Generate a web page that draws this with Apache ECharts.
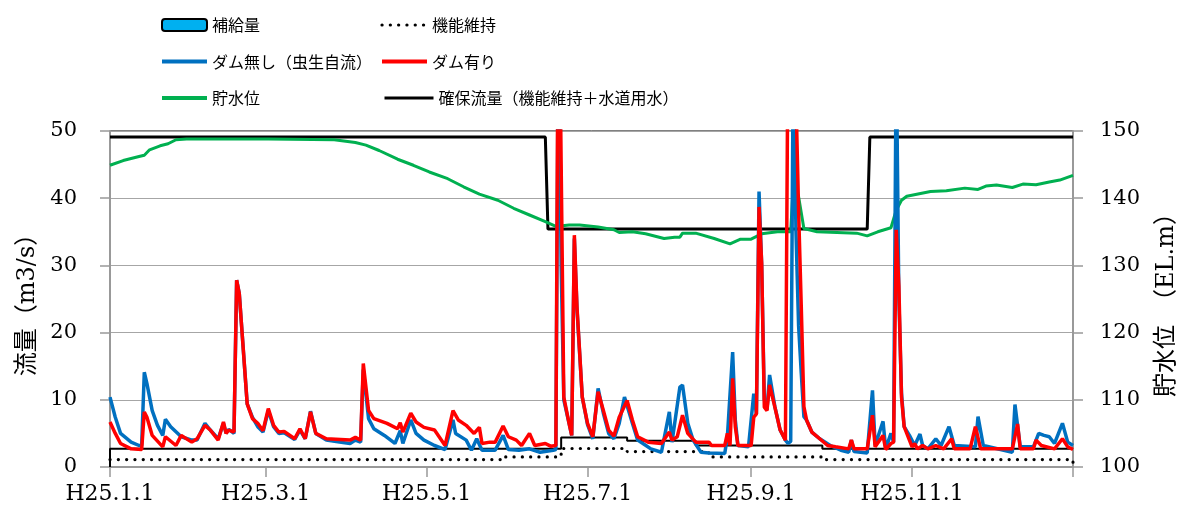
<!DOCTYPE html>
<html>
<head>
<meta charset="utf-8">
<script src="https://cdn.jsdelivr.net/npm/echarts@6/dist/echarts.min.js"></script>
<style>
  html, body { margin: 0; padding: 0; background: #fff; }
  #chart { width: 1189px; height: 514px; }
</style>
</head>
<body>
<div id="chart"></div>
<script>
// Day-of-year positions (day 0 = H25.1.1) for the month ticks
const tickDays = [0, 59, 120, 181, 243, 304, 365];
const tickLabels = ['H25.1.1', 'H25.3.1', 'H25.5.1', 'H25.7.1', 'H25.9.1', 'H25.11.1', ''];

// 補給量 (m3/s) — no supply releases in this period
const supply = [];

// 機能維持 (m3/s): [day, value] change points
const maintenanceFlow = [
  [0, 1.1], [149, 1.5], [171, 2.75], [196, 2.3], [227, 1.5], [271, 1.1], [365, 0]
];

// 確保流量（機能維持＋水道用水） (m3/s): [day, value] change points
const securedFlow = [
  [0, 0], [0, 2.7], [171, 4.4], [196, 3.9], [222, 3.2], [270, 2.7], [365, 2.7]
];

// ダム無し（虫生自流） (m3/s): [day, value]
const naturalFlow = [
  [0, 10.4], [2, 7.4], [4, 5.0], [8, 3.7], [11, 3.2], [12, 3.2], [13, 14.1], [14, 12.4],
  [16, 8.4], [18, 6.2], [20, 4.7], [21, 7.1], [23, 6.0], [27, 4.5], [31, 4.0], [33, 4.0],
  [36, 6.5], [38, 5.5], [41, 4.2], [43, 6.5], [44, 5.0], [45, 5.6], [47, 5.0], [48, 27.8],
  [49, 25.8], [52, 9.4], [54, 7.4], [56, 6.0], [58, 5.2], [60, 8.4], [62, 6.0], [64, 5.0],
  [66, 5.1], [70, 4.1], [72, 5.5], [74, 4.2], [76, 8.3], [78, 5.0], [82, 4.0], [87, 3.7],
  [91, 3.5], [93, 4.0], [95, 3.7], [96, 14.5], [98, 7.2], [100, 5.7], [104, 4.7], [108, 3.5],
  [110, 5.4], [111, 3.5], [114, 7.0], [116, 5.0], [119, 4.0], [123, 3.2], [127, 2.6], [130, 7.0],
  [131, 5.0], [135, 4.0], [137, 2.5], [139, 4.2], [141, 2.5], [146, 2.5], [149, 4.7], [151, 2.6],
  [155, 2.5], [159, 2.7], [163, 2.2], [168, 2.5], [169, 2.6], [170, 70], [171, 30], [172, 10],
  [174, 6.5], [175, 4.7], [176, 34], [177, 23.5], [179, 10.4], [181, 6.3], [183, 4.2], [185, 11.7],
  [187, 8.0], [189, 5.0], [191, 4.2], [193, 6.5], [195, 10.4], [198, 6.5], [200, 4.0], [202, 3.5],
  [205, 2.7], [209, 2.2], [212, 8.2], [213, 3.7], [216, 11.9], [217, 12.2], [219, 6.5], [221, 4.0],
  [224, 2.2], [227, 2.1], [233, 2.0], [234, 4.5], [236, 17.1], [237, 7.0], [238, 3.2], [242, 3.0],
  [244, 10.9], [245, 7.9], [246, 41.0], [247, 30.0], [248, 10.0], [249, 8.5], [250, 13.7], [252, 9.0],
  [254, 5.5], [256, 4.0], [257, 3.5], [258, 3.8], [259, 62], [260, 35], [261, 21], [262, 14],
  [263, 7.5], [264, 7.0], [266, 5.2], [269, 4.2], [273, 3.2], [277, 2.5], [280, 2.2], [281, 4.0],
  [282, 2.3], [287, 2.1], [289, 11.4], [290, 3.2], [293, 6.8], [294, 2.7], [296, 5.0], [297, 3.7],
  [298, 62], [299, 25], [300, 11], [301, 6.0], [303, 4.7], [305, 3.2], [307, 4.9], [308, 3.2],
  [310, 2.7], [313, 4.2], [315, 3.2], [318, 6.0], [320, 3.2], [328, 3.0], [329, 7.5], [331, 3.2],
  [342, 2.2], [343, 9.3], [345, 3.0], [350, 3.0], [352, 5.0], [354, 4.7], [356, 4.5], [358, 3.5],
  [361, 6.5], [363, 3.7], [365, 3.2]
];

// ダム有り (m3/s): [day, value]
const regulatedFlow = [
  [0, 6.7], [2, 5.0], [4, 3.5], [8, 2.7], [12, 2.6], [13, 8.2], [14, 7.4], [16, 4.7],
  [20, 3.0], [21, 4.5], [25, 3.2], [27, 4.7], [31, 3.7], [33, 4.2], [36, 6.2], [38, 5.5],
  [41, 4.0], [43, 6.7], [44, 5.0], [45, 5.5], [47, 5.2], [48, 27.8], [49, 25.8], [52, 9.4],
  [54, 7.2], [56, 6.5], [58, 5.4], [60, 8.7], [62, 6.2], [64, 5.2], [66, 5.3], [70, 4.2],
  [72, 5.7], [74, 4.2], [76, 8.2], [78, 5.0], [82, 4.2], [91, 4.0], [93, 4.4], [95, 4.0],
  [96, 15.4], [98, 8.4], [100, 7.2], [105, 6.5], [109, 5.7], [110, 6.6], [111, 5.2], [114, 8.0],
  [116, 6.7], [119, 5.9], [123, 5.5], [127, 3.2], [130, 8.4], [132, 7.0], [135, 6.2], [138, 5.0],
  [140, 5.9], [141, 3.5], [144, 3.7], [146, 3.7], [149, 6.1], [151, 4.5], [154, 4.0], [156, 3.2],
  [159, 5.0], [161, 3.2], [165, 3.5], [167, 3.1], [169, 3.2], [170, 80], [171, 45], [172, 10.4],
  [174, 6.5], [175, 4.7], [176, 34.5], [177, 23.8], [179, 10.4], [181, 6.5], [183, 4.5], [185, 11.2],
  [187, 8.4], [189, 5.5], [191, 4.6], [193, 7.4], [196, 9.9], [198, 7.0], [200, 4.5], [204, 3.7],
  [209, 3.5], [212, 5.2], [213, 4.0], [215, 4.5], [217, 7.7], [219, 5.0], [222, 3.7], [227, 3.7],
  [228, 3.2], [233, 3.2], [234, 5.0], [235, 3.2], [236, 13.2], [237, 6.0], [238, 3.2], [243, 3.2],
  [244, 7.4], [245, 7.9], [246, 38.7], [247, 30.3], [248, 8.9], [249, 8.4], [250, 12.2], [252, 8.9],
  [254, 5.5], [256, 4.0], [257, 65], [258, 70], [259, 70], [260, 55], [261, 38], [262, 24],
  [263, 9.0], [264, 7.0], [266, 5.2], [269, 4.2], [272, 3.2], [275, 3.0], [280, 2.7], [281, 4.0],
  [282, 2.7], [287, 2.7], [289, 7.7], [290, 3.0], [293, 4.7], [294, 2.6], [296, 3.5], [297, 3.7],
  [298, 35.3], [299, 27], [300, 10.4], [301, 6.0], [303, 4.0], [304, 3.0], [305, 3.5], [306, 2.7],
  [308, 3.2], [310, 2.7], [313, 3.2], [316, 2.7], [319, 4.2], [320, 2.7], [326, 2.7], [328, 6.0],
  [330, 2.7], [342, 2.7], [344, 6.4], [345, 2.7], [350, 2.7], [351, 4.0], [353, 3.2], [358, 2.7],
  [361, 4.2], [363, 3.0], [365, 2.6]
];

// 貯水位 (EL.m): [day, value]
const reservoirLevel = [
  [0, 144.9], [5, 145.6], [11, 146.2], [13, 146.4], [15, 147.2], [19, 147.8], [22, 148.1], [25, 148.7],
  [29, 148.8], [60, 148.8], [85, 148.7], [93, 148.3], [97, 147.9], [102, 147.1], [109, 145.8], [115, 144.9],
  [121, 143.9], [128, 142.9], [134, 141.7], [140, 140.6], [147, 139.7], [153, 138.5], [159, 137.5], [165, 136.5],
  [169, 135.8], [174, 136.0], [178, 136.0], [185, 135.7], [191, 135.3], [193, 134.9], [198, 135.0], [203, 134.7],
  [210, 134.0], [214, 134.2], [216, 134.2], [217, 134.8], [222, 134.8], [229, 134.0], [235, 133.2], [239, 133.9],
  [243, 133.9], [247, 134.7], [253, 135.0], [258, 135.0], [259, 142.2], [261, 140.2], [263, 135.5], [268, 135.0],
  [283, 134.8], [287, 134.4], [291, 135.0], [296, 135.6], [298, 138.2], [300, 139.7], [302, 140.3], [311, 141.0],
  [317, 141.1], [324, 141.5], [329, 141.3], [332, 141.8], [336, 141.96], [342, 141.6], [346, 142.1], [351, 142.0],
  [356, 142.4], [360, 142.7], [365, 143.4]
];

// Reference water levels (EL.m): [day, value] change points
const referenceLevel = [
  [0, 149.1], [165, 149.1], [166, 135.4], [287, 135.4], [288, 149.1], [365, 149.1]
];

const serif = "'DejaVu Serif', 'Noto Sans CJK JP', serif";
const jp = "'Noto Sans CJK JP', sans-serif";

const chart = echarts.init(document.getElementById('chart'), null, { renderer: 'canvas' });

const legendText = { fontSize: 16, fontFamily: jp, color: '#000', lineHeight: 20 };
// line entries show only their stroke, no point symbol
const lineOnly = { opacity: 0 };

chart.setOption({
  animation: false,
  backgroundColor: '#fff',
  grid: {
    left: 110, right: 116, top: 131, bottom: 47,
    show: true, borderColor: '#000', borderWidth: 1, backgroundColor: 'transparent'
  },
  legend: [
    {
      left: 155, top: 10, orient: 'vertical', itemGap: 16.5,
      itemWidth: 45, itemHeight: 12,
      textStyle: legendText,
      itemStyle: lineOnly,
      lineStyle: { width: 4 },
      data: [
        { name: '補給量', itemStyle: { opacity: 1 } },
        'ダム無し（虫生自流）',
        '貯水位'
      ]
    },
    {
      left: 375, top: 10, orient: 'vertical', itemGap: 16.5,
      itemWidth: 45, itemHeight: 12,
      textStyle: legendText,
      itemStyle: lineOnly,
      data: [
        { name: '機能維持', lineStyle: { width: 3.2 } },
        { name: 'ダム有り', lineStyle: { width: 4 } }
      ]
    },
    {
      left: 378, top: 83, orient: 'vertical',
      itemWidth: 49, itemHeight: 12,
      textStyle: legendText,
      itemStyle: lineOnly,
      lineStyle: { width: 3 },
      data: ['確保流量（機能維持＋水道用水）']
    }
  ],
  xAxis: {
    type: 'value',
    min: 0, max: 365,
    axisLine: { show: true, lineStyle: { color: '#999', width: 2 } },
    axisTick: { show: true, customValues: tickDays, length: 10, lineStyle: { color: '#999', width: 1.5 } },
    axisLabel: {
      customValues: tickDays.slice(0, 6),
      formatter: v => tickLabels[tickDays.indexOf(v)],
      fontSize: 22, fontFamily: serif, color: '#000', margin: 16
    },
    splitLine: { show: false }
  },
  yAxis: [
    {
      type: 'value', min: 0, max: 50, interval: 10,
      name: '流量（m3/s）', nameLocation: 'middle', nameRotate: 90, nameGap: 68,
      nameTextStyle: { fontSize: 24, fontFamily: serif, color: '#000' },
      axisLine: { show: true, lineStyle: { color: '#999', width: 2 } },
      axisTick: { show: true, length: 10, lineStyle: { color: '#999', width: 1.5 } },
      axisLabel: { fontSize: 21, fontFamily: serif, color: '#000', margin: 33 },
      splitLine: { show: true, lineStyle: { color: '#a6a6a6', width: 1.2 } }
    },
    {
      type: 'value', min: 100, max: 150, interval: 10,
      name: '貯水位　（EL.m）', nameLocation: 'middle', nameRotate: 90, nameGap: 82,
      nameTextStyle: { fontSize: 24, fontFamily: serif, color: '#000' },
      axisLine: { show: true, lineStyle: { color: '#999', width: 2 } },
      axisTick: { show: true, length: 10, lineStyle: { color: '#999', width: 1.5 } },
      axisLabel: { fontSize: 21, fontFamily: serif, color: '#000', margin: 27 },
      splitLine: { show: false }
    }
  ],
  series: [
    {
      name: '補給量', type: 'bar', yAxisIndex: 0, data: supply,
      itemStyle: { color: '#00B0F0', borderColor: '#000', borderWidth: 2 }
    },
    {
      name: 'referenceLevel', type: 'line', yAxisIndex: 1, data: referenceLevel,
      symbol: 'none', lineStyle: { color: '#000', width: 3 }, z: 2
    },
    {
      name: '機能維持', type: 'line', yAxisIndex: 0, data: maintenanceFlow, step: 'end',
      symbol: 'none', itemStyle: { color: '#000' },
      lineStyle: { color: '#000', width: 3.2, type: [0.1, 8.2], cap: 'round' }, z: 3
    },
    {
      name: '確保流量（機能維持＋水道用水）', type: 'line', yAxisIndex: 0, data: securedFlow, step: 'end',
      symbol: 'none', itemStyle: { color: '#000' }, lineStyle: { color: '#000', width: 2 }, z: 3
    },
    {
      name: '貯水位', type: 'line', yAxisIndex: 1, data: reservoirLevel,
      symbol: 'none', itemStyle: { color: '#00B050' }, lineStyle: { color: '#00B050', width: 3 }, z: 4
    },
    {
      name: 'ダム無し（虫生自流）', type: 'line', yAxisIndex: 0, data: naturalFlow,
      symbol: 'none', itemStyle: { color: '#0070C0' }, lineStyle: { color: '#0070C0', width: 3.5 }, z: 5
    },
    {
      name: 'ダム有り', type: 'line', yAxisIndex: 0, data: regulatedFlow,
      symbol: 'none', itemStyle: { color: '#FF0000' }, lineStyle: { color: '#FF0000', width: 3.5 }, z: 6
    }
  ]
});
</script>
</body>
</html>
